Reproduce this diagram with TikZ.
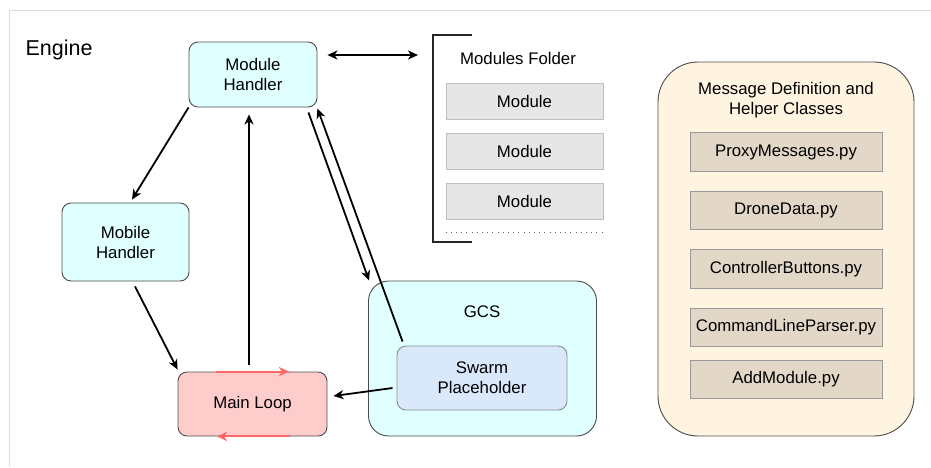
\documentclass[tikz,border=0pt]{standalone}
\usepackage{fontspec}
\setmainfont{Liberation Sans}
\usepackage{xcolor}
\usetikzlibrary{arrows.meta,positioning}
\definecolor{handlercyan}{HTML}{E0FFFF}
\definecolor{loopred}{HTML}{FFCCCC}
\definecolor{looparrow}{HTML}{FF6666}
\definecolor{swarmblue}{HTML}{DAE8FC}
\definecolor{modulegray}{HTML}{E6E6E6}
\definecolor{helpercream}{HTML}{FFF4E0}
\definecolor{helpertan}{HTML}{E3D8C8}
\definecolor{framegray}{HTML}{DDDDDD}
\tikzset{
  enginepicture/.style={x=1pt, y=-1pt, font=\fontsize{16.8}{20}\selectfont},
  enginebox/.style={draw=black!70, line width=0.9pt, rounded corners=9pt, align=center, inner sep=0pt, fill=handlercyan},
  modulebox/.style={draw=black!25, line width=0.9pt, fill=modulegray, inner sep=0pt, minimum width=157pt, minimum height=36pt},
  helperbox/.style={draw=black!40, line width=0.9pt, fill=helpertan, inner sep=0pt, minimum width=192pt, minimum height=38.5pt},
  folderline/.style={draw=black!85, line width=1.3pt},
  moduledots/.style={draw=black!60, line width=1pt, dash pattern=on 1pt off 4.2pt},
  enginearrow/.style={-{Stealth[length=10pt, width=9pt, inset=3pt]}, line width=1.8pt},
  enginetwoway/.style={{Stealth[length=10pt, width=9pt, inset=3pt]}-{Stealth[length=10pt, width=9pt, inset=3pt]}, line width=1.8pt},
  looparrowline/.style={-{Stealth[length=10pt, width=9pt, inset=3pt]}, line width=2pt, draw=looparrow}
}

\begin{document}
\begin{tikzpicture}[enginepicture]
\useasboundingbox (0,0) rectangle (931,467);
\draw[framegray, line width=1pt] (9,467) -- (9,10) -- (931,10);
\node[anchor=base west, font=\fontsize{21.5}{25}\selectfont] (engine) at (22,55) {Engine};

% handlers and the loop
\node[enginebox, minimum width=128pt, minimum height=65pt] (modhandler) at (253,74.5) {Module\\Handler};
\node[enginebox, minimum width=127pt, minimum height=78pt] (mobile) at (125.5,242) {Mobile\\Handler};
\node[enginebox, fill=loopred, minimum width=149pt, minimum height=64pt] (mainloop) at (252.5,404) {Main Loop};
\draw[looparrowline] ([xshift=-36.5pt]mainloop.north) -- ([xshift=36.5pt]mainloop.north);
\draw[looparrowline] ([xshift=37.5pt]mainloop.south) -- ([xshift=-35.5pt]mainloop.south);

% ground station
\node[enginebox, rounded corners=20pt, minimum width=228pt, minimum height=155pt] (gcs) at (482.5,358.5) {};
\node (gcslabel) at (482,312) {GCS};
\node[enginebox, draw=black!45, fill=swarmblue, minimum width=170pt, minimum height=64pt] (swarm) at (482,378) {Swarm\\Placeholder};

% modules folder
\coordinate (folderin) at (418,55);
\draw[folderline] (472,35) -- (433,35) -- (433,242) -- (472,242);
\node (folderlabel) at (518,58) {Modules Folder};
\node[modulebox] (moduleA) at (524.5,101) {Module};
\node[modulebox, below=14pt of moduleA] (moduleB) {Module};
\node[modulebox, below=13pt of moduleB] (moduleC) {Module};
\draw[moduledots] ([yshift=-12pt]moduleC.south west) -- ([yshift=-12pt]moduleC.south east);

% helper classes
\node[enginebox, fill=helpercream, rounded corners=40pt, minimum width=256pt, minimum height=374pt] (helpers) at (786,249) {};
\node[align=center] (helperlabel) at (786,100) {Message Definition and\\Helper Classes};
\node[helperbox] (proxymsg) at (786,152) {ProxyMessages.py};
\node[helperbox, below=19pt of proxymsg] (dronedata) {DroneData.py};
\node[helperbox, below=19pt of dronedata] (ctrlbuttons) {ControllerButtons.py};
\node[helperbox, below=19pt of ctrlbuttons] (cmdparser) {CommandLineParser.py};
\node[helperbox, below=13pt of cmdparser] (addmodule) {AddModule.py};

% connections
\draw[enginetwoway] ([xshift=10pt,yshift=19.5pt]modhandler.east) -- (folderin);
\draw[enginearrow] (modhandler.south west) -- ([xshift=6.5pt,yshift=3pt]mobile.north);
\draw[enginearrow] ([xshift=9.5pt,yshift=-5pt]mobile.south) -- ([yshift=2pt]mainloop.north west);
\draw[enginearrow] ([xshift=-3.5pt,yshift=7pt]mainloop.north) -- ([xshift=-4pt,yshift=-7pt]modhandler.south);
\draw[enginearrow] ([xshift=-9pt,yshift=-5pt]modhandler.south east) -- ([xshift=1pt]gcs.north west);
\draw[enginearrow] ([xshift=6pt,yshift=4pt]swarm.north west) -- ([yshift=-1pt]modhandler.south east);
\draw[enginearrow] ([xshift=-4pt,yshift=-10pt]swarm.west) -- ([xshift=6pt,yshift=8pt]mainloop.east);
\end{tikzpicture}
\end{document}
